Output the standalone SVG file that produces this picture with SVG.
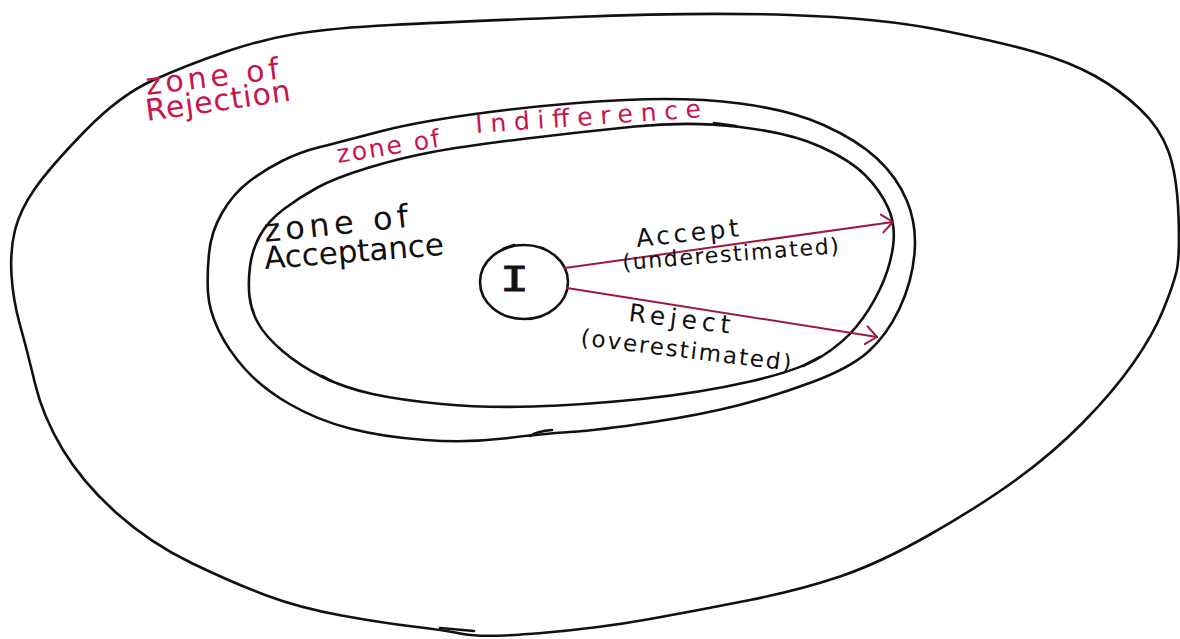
<svg xmlns="http://www.w3.org/2000/svg" width="1180" height="639" viewBox="0 0 1180 639">
<style>
.line{fill:none;stroke:#111;stroke-width:2.6;stroke-linecap:round;stroke-linejoin:round}
.arrow{fill:none;stroke:#9c1a3c;stroke-width:2;stroke-linecap:round}
.red{fill:#c8164b;font-family:"DejaVu Sans",sans-serif}
.blk{fill:#111;font-family:"DejaVu Sans",sans-serif}
</style>
<defs>
<marker id="ah" markerUnits="userSpaceOnUse" markerWidth="30" markerHeight="30" viewBox="-20 -15 30 30" refX="0" refY="0" orient="auto" overflow="visible">
<path d="M -11 -9 L 0 0 L -11 9" fill="none" stroke="#9c1a3c" stroke-width="2" stroke-linecap="round" stroke-linejoin="round"/>
</marker>
</defs>
<rect width="1180" height="639" fill="#fff"/>
<g id="zone-rejection">
<path class="line" d="M 11.5 275 Q 10 250 15 230 Q 20 210 35 188.5 Q 50 167 85 131 Q 120 95 153.5 80 Q 187 65 225 52 Q 263 39 298 33.5 Q 333 28 391.5 25 Q 450 22 575 17 Q 700 12 790 15 Q 880 18 940 30 Q 1000 42 1035 52 Q 1070 62 1095 76 Q 1120 90 1140 109 Q 1160 128 1168.5 151.5 Q 1177 175 1178.5 216 Q 1180 257 1176.5 271.5 Q 1173 286 1163 310.5 Q 1153 335 1133 363.5 Q 1113 392 1083 422.5 Q 1053 453 1016.5 479.5 Q 980 506 930 534.5 Q 880 563 840 576.5 Q 800 590 750 600 Q 700 610 650 619 Q 600 628 541.5 633 Q 483 638 463 634 Q 443 630 413 626.5 Q 383 623 341.5 615.5 Q 300 608 266.5 595.5 Q 233 583 191.5 563 Q 150 543 116.5 513 Q 83 483 63 450 Q 43 417 35 383.5 Q 27 350 20 325 Q 13 300 11.5 275 Z"/>
<path class="line" d="M 440 628 L 474 631"/>
<text class="red" x="147" y="95" font-size="30" textLength="134" lengthAdjust="spacing" transform="rotate(-7 147 95)">zone of</text>
<text class="red" x="147" y="121" font-size="30" textLength="146" lengthAdjust="spacing" transform="rotate(-8 147 121)">Rejection</text>
</g>
<g id="zone-indifference">
<path class="line" d="M 208 292.5 Q 207 275 209 253.5 Q 211 232 222 213 Q 233 194 248.5 182 Q 264 170 282 161 Q 300 152 320 147 Q 340 142 380 131.5 Q 420 121 490 112 Q 560 103 625 100 Q 690 97 740 103.5 Q 790 110 823.5 125 Q 857 140 877 158.5 Q 897 177 907 201 Q 917 225 914.5 253.5 Q 912 282 899.5 308.5 Q 887 335 868.5 351.5 Q 850 368 812.5 382 Q 775 396 737.5 405.5 Q 700 415 650 422.5 Q 600 430 570 432 Q 540 434 503.5 438.5 Q 467 443 425 440 Q 383 437 350 428.5 Q 317 420 289.5 404 Q 262 388 245 369 Q 228 350 218.5 330 Q 209 310 208 292.5 Z"/>
<path class="line" d="M 530 436 Q 538 431 552 430"/>
<text class="red" x="338" y="163" font-size="25" textLength="104" lengthAdjust="spacing" transform="rotate(-9 338 163)">zone of</text>
<text class="red" x="476" y="133" font-size="25" textLength="226" lengthAdjust="spacing" transform="rotate(-4 476 133)">Indifference</text>
</g>
<g id="zone-acceptance">
<path class="line" d="M 249.5 296.5 Q 248 283 250 266.5 Q 252 250 260 235.5 Q 268 221 284 209 Q 300 197 317.5 187.5 Q 335 178 367.5 168 Q 400 158 432.5 152 Q 465 146 522.5 139 Q 580 132 635 126.5 Q 690 121 740 127 Q 790 133 820 146.5 Q 850 160 865 175 Q 880 190 888 207.5 Q 896 225 893 246.5 Q 890 268 880 289 Q 870 310 856.5 326.5 Q 843 343 821.5 356.5 Q 800 370 750 381.5 Q 700 393 641.5 399 Q 583 405 533 406.5 Q 483 408 441.5 404 Q 400 400 372.5 394 Q 345 388 322.5 377 Q 300 366 282.5 351 Q 265 336 258 323 Q 251 310 249.5 296.5 Z"/>
<path class="line" d="M 714 123 L 736 126 M 803 366 L 820 357 M 322 376 L 331 381"/>
<text class="blk" x="265" y="242" font-size="32" textLength="145" lengthAdjust="spacing" transform="rotate(-6 265 242)">zone of</text>
<text class="blk" x="265" y="269" font-size="31" textLength="180" lengthAdjust="spacing" transform="rotate(-4.5 265 269)">Acceptance</text>
</g>
<g id="node-I">
<ellipse class="line" cx="524" cy="282" rx="44" ry="37"/>
<path class="line" d="M 503 249 L 514 245"/>
<text class="blk" x="500" y="291" font-size="33" stroke="#111" stroke-width="0.8" style="font-family:'DejaVu Sans Mono',monospace" textLength="29" lengthAdjust="spacingAndGlyphs">I</text>
</g>
<g id="connectors">
<path class="arrow" d="M 565 268 L 893 222" marker-end="url(#ah)"/>
<path class="arrow" d="M 567 288 L 877 337" marker-end="url(#ah)"/>
<text class="blk" x="637" y="247" font-size="25" textLength="103" lengthAdjust="spacing" transform="rotate(-6 637 247)">Accept</text>
<text class="blk" x="623" y="270" font-size="22" textLength="217" lengthAdjust="spacing" transform="rotate(-4.5 623 270)">(underestimated)</text>
<text class="blk" x="628" y="321" font-size="25" textLength="102" lengthAdjust="spacing" transform="rotate(7 628 321)">Reject</text>
<text class="blk" x="580" y="345" font-size="23" textLength="212" lengthAdjust="spacing" transform="rotate(7 580 345)">(overestimated)</text>
</g>
</svg>
